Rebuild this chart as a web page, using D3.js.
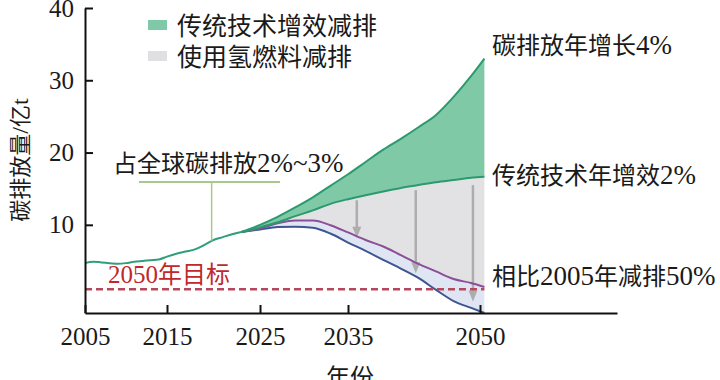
<!DOCTYPE html>
<html>
<head>
<meta charset="utf-8">
<script src="https://cdn.jsdelivr.net/npm/d3@7"></script>
<style>
  body { margin: 0; background: #fff; }
  svg text { font-family: "Liberation Serif", "Noto Sans CJK SC", serif; fill: #1a1a1a; }
</style>
</head>
<body>
<svg width="720" height="380"></svg>
<script>
// historical emissions
var histYears = [2005, 2006, 2007, 2008, 2009, 2010, 2011, 2012, 2013, 2014, 2015, 2016, 2017, 2018, 2019, 2020, 2021, 2022, 2023];
var histValues = [4.7, 4.9, 4.8, 4.7, 4.6, 4.7, 4.9, 5.0, 5.1, 5.2, 5.6, 6.0, 6.3, 6.6, 7.2, 7.9, 8.3, 8.7, 9.0];

// scenarios
var projYears = [2023, 2025, 2027, 2029, 2031, 2033, 2035, 2037, 2039, 2041, 2043, 2045, 2047, 2049, 2050.5];
var growth4 = [9.0, 10.0, 11.1, 12.4, 13.8, 15.4, 17.0, 18.7, 20.4, 21.9, 23.5, 25.2, 27.7, 30.6, 33.0];
var eff2 = [9.0, 9.65, 10.35, 11.2, 12.0, 12.9, 13.55, 14.1, 14.6, 15.1, 15.5, 15.9, 16.2, 16.5, 16.65];
var hydrogen = [9.0, 9.5, 10.2, 10.6, 10.6, 9.95, 8.95, 7.9, 7.0, 5.8, 4.6, 3.55, 2.5, 1.95, 1.4];
var lower = [9.0, 9.35, 9.7, 9.75, 9.6, 8.8, 7.55, 6.4, 5.15, 3.95, 2.65, 1.0, -0.55, -1.5, -2.2];

var target2050 = 1.1;
var arrows = [
  { year: 2036, from: 13.4, to: 8.2 },
  { year: 2042.7, from: 14.8, to: 3.3 },
  { year: 2049.2, from: 15.5, to: -0.6 }
];

var xTicks = [2005, 2015, 2025, 2035, 2050];
var yTicks = [10, 20, 30, 40];

var svg = d3.select("svg");

// axis spacing in the source is uneven, so a piecewise scale
var x = d3.scaleLinear()
  .domain([2005, 2015, 2025, 2035, 2050, 2065.6])
  .range([85, 167, 260, 348, 480, 617]);
var y = d3.scaleLinear().domain([-2.2, 40]).range([313, 8]);

var hist = histYears.map((d, i) => ({ year: d, v: histValues[i] }));
var proj = projYears.map((d, i) => ({
  year: d, up: growth4[i], mid: eff2[i], h2: hydrogen[i], low: lower[i]
}));

var curve = d3.curveMonotoneX;

function band(top, bottom) {
  return d3.area().curve(curve)
    .x(d => x(d.year)).y0(d => y(d[bottom])).y1(d => y(d[top]));
}
function line(key) {
  return d3.line().curve(curve).x(d => x(d.year)).y(d => y(d[key]));
}

// latin runs a bit bigger than the CJK runs, like the source
function mixed(sel, str, cjk, latin) {
  str.match(/[\u0000-\u00ff]+|[^\u0000-\u00ff]+/g).forEach(function (run) {
    sel.append("tspan")
      .style("font-size", /[\u0000-\u00ff]/.test(run) ? latin + "px" : cjk + "px")
      .text(run);
  });
}

// fills
svg.append("path").datum(proj).attr("d", band("h2", "low")).attr("fill", "#dfe5f3");
svg.append("path").datum(proj).attr("d", band("mid", "h2")).attr("fill", "#e2e2e4");
svg.append("path").datum(proj).attr("d", band("up", "mid")).attr("fill", "#80c9a6");

// arrows
var arrowG = svg.append("g");
arrows.forEach(function (a) {
  var ax = x(a.year), y1 = y(a.from), y2 = y(a.to);
  arrowG.append("line")
    .attr("x1", ax).attr("x2", ax).attr("y1", y1).attr("y2", y2 - 9)
    .attr("stroke", "#adadad").attr("stroke-width", 2.5);
  arrowG.append("path")
    .attr("d", "M" + (ax - 4.5) + "," + (y2 - 11) + "L" + (ax + 4.5) + "," + (y2 - 11) + "L" + ax + "," + y2 + "Z")
    .attr("fill", "#adadad");
});

// lines
svg.append("path").datum(proj).attr("d", line("low"))
  .attr("fill", "none").attr("stroke", "#3d5591").attr("stroke-width", 2);
svg.append("path").datum(proj).attr("d", line("h2"))
  .attr("fill", "none").attr("stroke", "#8a4f97").attr("stroke-width", 2);
svg.append("path").datum(proj).attr("d", line("mid"))
  .attr("fill", "none").attr("stroke", "#2b9a6f").attr("stroke-width", 2);
svg.append("path").datum(proj).attr("d", line("up"))
  .attr("fill", "none").attr("stroke", "#2b9a6f").attr("stroke-width", 2);
svg.append("path").datum(hist)
  .attr("d", d3.line().curve(curve).x(d => x(d.year)).y(d => y(d.v)))
  .attr("fill", "none").attr("stroke", "#2f9e7c").attr("stroke-width", 2);

// 2050 target
svg.append("line")
  .attr("x1", x(2005)).attr("x2", x(2050.5))
  .attr("y1", y(target2050)).attr("y2", y(target2050))
  .attr("stroke", "#b5485d").attr("stroke-width", 2.5).attr("stroke-dasharray", "7,4");
var tgt = svg.append("text").attr("x", 108).attr("y", 277).attr("dy", "0.36em")
  .style("fill", "#c0282d");
mixed(tgt, "2050年目标", 24, 25);
tgt.selectAll("tspan").style("fill", "#c0282d");

// share annotation
svg.append("line").attr("x1", 139).attr("x2", 280).attr("y1", 182).attr("y2", 182)
  .attr("stroke", "#a8c98a").attr("stroke-width", 2);
svg.append("line").attr("x1", x(2019.8)).attr("x2", x(2019.8)).attr("y1", 182).attr("y2", y(7.8))
  .attr("stroke", "#a8c98a").attr("stroke-width", 1.5);
var share = svg.append("text").attr("x", 113).attr("y", 166).attr("dy", "0.36em");
mixed(share, "占全球碳排放2%~3%", 24, 27);

// right-hand labels
var rightLabels = ["碳排放年增长4%", "传统技术年增效2%", "相比2005年减排50%"];
var rightY = [48, 178, 279];
rightLabels.forEach(function (d, i) {
  var t = svg.append("text").attr("x", 492).attr("y", rightY[i]).attr("dy", "0.36em");
  mixed(t, d, 24, 27);
});

// legend
var legendNames = ["传统技术增效减排", "使用氢燃料减排"];
var legendColors = ["#7fc8a8", "#e0e0e2"];
var lg = svg.selectAll(".leg").data(legendNames).enter().append("g")
  .attr("transform", (d, i) => "translate(148," + (20 + i * 31) + ")");
lg.append("rect").attr("width", 19).attr("height", 10).attr("fill", (d, i) => legendColors[i]);
lg.append("text").attr("x", 29).attr("y", 6).attr("dy", "0.36em")
  .style("font-size", "25px").text(d => d);

// axes
var xAxis = svg.append("g").attr("transform", "translate(0,313)")
  .call(d3.axisBottom(x).tickValues(xTicks).tickFormat(d3.format("d"))
    .tickSizeInner(-8).tickSizeOuter(0).tickPadding(14));
var yAxis = svg.append("g").attr("transform", "translate(85,0)")
  .call(d3.axisLeft(y).tickValues(yTicks).tickSizeInner(-8).tickSizeOuter(0).tickPadding(11));
[xAxis, yAxis].forEach(function (a) {
  a.selectAll("path, line").attr("stroke", "#111").attr("stroke-width", 2);
  a.selectAll("text").style("font-size", "25px")
    .style("font-family", "'Liberation Serif', serif").attr("fill", "#1a1a1a");
});

// axis titles
var yt = svg.append("text").attr("transform", "translate(22,160) rotate(-90)")
  .attr("text-anchor", "middle").attr("dy", "0.36em");
mixed(yt, "碳排放量/亿t", 22, 24);
svg.append("text").attr("x", 350).attr("y", 377).attr("dy", "0.36em")
  .attr("text-anchor", "middle").style("font-size", "24px").text("年份");
</script>
</body>
</html>
